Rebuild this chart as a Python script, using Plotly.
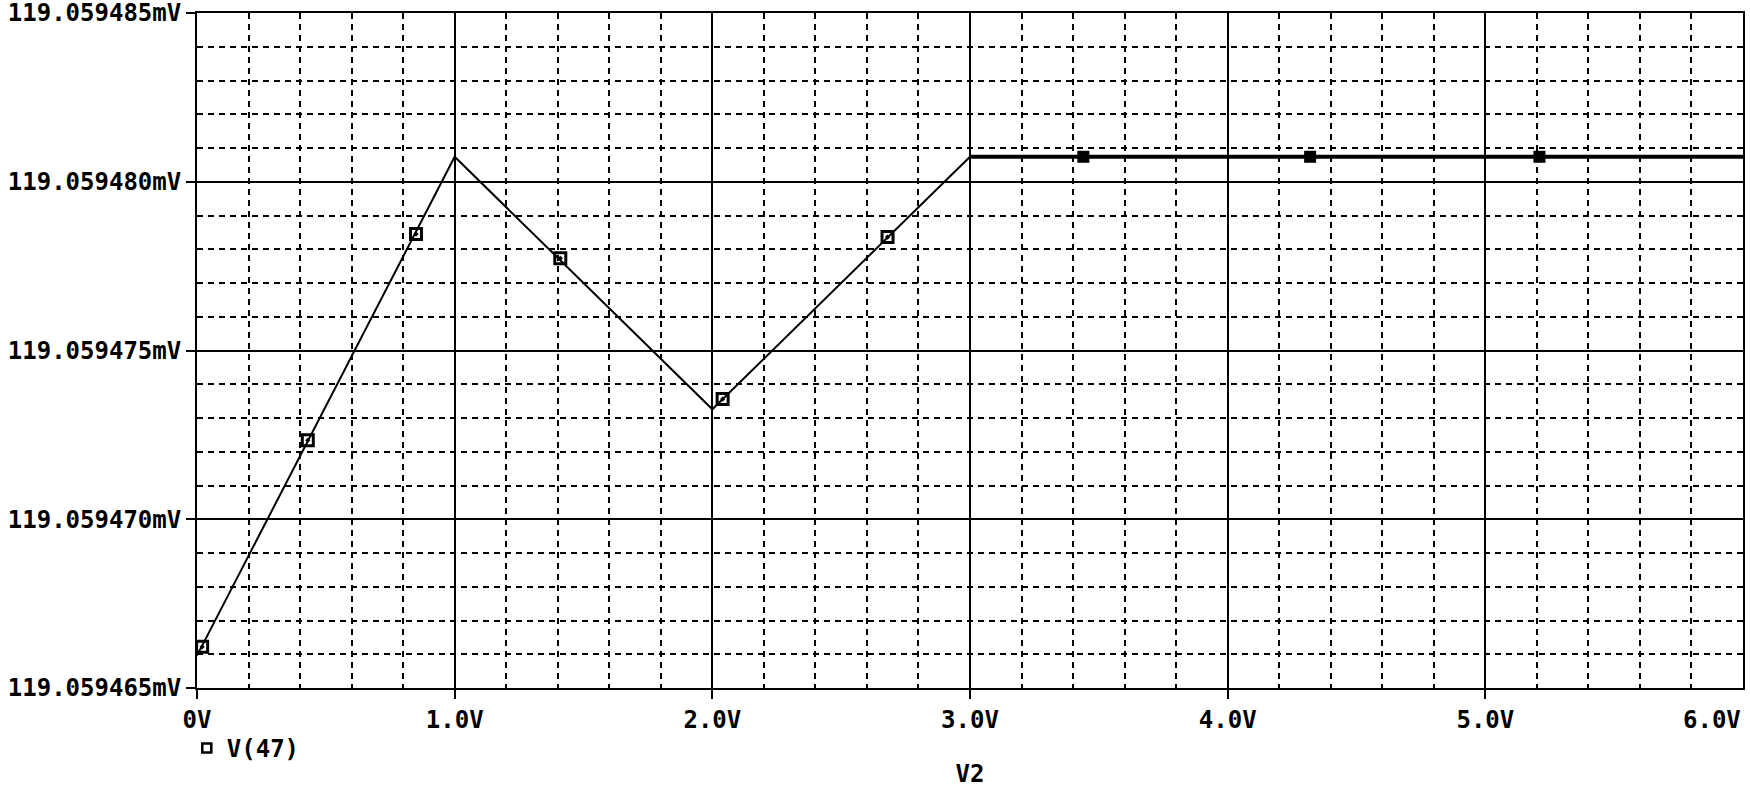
import plotly.graph_objects as go

# V(47) trace vertices (V2 sweep, volts) and value in mV
v2 = [0.0, 1.0, 2.0, 3.0, 4.0, 5.0, 6.0]
v47 = [119.05946596, 119.05948074, 119.05947326, 119.05948074,
       119.05948074, 119.05948074, 119.05948074]

# marker points drawn along the trace
mark_v2 = [0.02, 0.43, 0.85, 1.41, 2.04, 2.68, 3.44, 4.32, 5.21]
mark_v47 = [119.05946622, 119.05947234, 119.05947845, 119.05947773,
            119.05947356, 119.05947836, 119.05948074, 119.05948074,
            119.05948074]

x_ticks = [0, 1, 2, 3, 4, 5, 6]
x_labels = ["0V", "1.0V", "2.0V", "3.0V", "4.0V", "5.0V", "6.0V"]
y_ticks = [119.059465, 119.059470, 119.059475, 119.059480, 119.059485]
y_labels = ["119.059465mV", "119.059470mV", "119.059475mV",
            "119.059480mV", "119.059485mV"]

FONT = "DejaVu Sans Mono"
TF = dict(family=FONT, size=24, weight="bold", color="black")

fig = go.Figure()

# sloped part of the trace
fig.add_trace(go.Scatter(x=v2[:4], y=v47[:4], mode="lines",
                         line=dict(color="black", width=2),
                         showlegend=False, hoverinfo="skip"))
# flat part drawn heavier like the reference
fig.add_trace(go.Scatter(x=v2[3:], y=v47[3:], mode="lines",
                         line=dict(color="black", width=4),
                         showlegend=False, hoverinfo="skip"))
# markers on the sloped part
fig.add_trace(go.Scatter(x=mark_v2[:6], y=mark_v47[:6], mode="markers",
                         marker=dict(symbol="square-open-dot", size=11,
                                     color="black", line=dict(width=3)),
                         showlegend=False))
# markers on the flat part look solid
fig.add_trace(go.Scatter(x=mark_v2[6:], y=mark_v47[6:], mode="markers",
                         marker=dict(symbol="square", size=12, color="black"),
                         showlegend=False))
# legend entry: small hollow square
fig.add_trace(go.Scatter(x=[None], y=[None], mode="markers", name="V(47)",
                         marker=dict(symbol="square-open", size=9,
                                     color="black", line=dict(width=2.5))))

# last x label is right-aligned to the plot edge in the reference
fig.add_annotation(x=x_ticks[-1], y=0, xref="x", yref="paper",
                   text=x_labels[-1], showarrow=False,
                   xanchor="right", yanchor="top", yshift=-16, font=TF)

fig.update_layout(
    width=1750, height=788,
    margin=dict(l=197, r=7, t=13, b=100),
    plot_bgcolor="white", paper_bgcolor="white",
    font=TF,
    legend=dict(x=-0.0066, y=-0.056, xanchor="left", yanchor="top",
                font=TF, bgcolor="rgba(0,0,0,0)", itemwidth=30),
)

fig.update_xaxes(
    range=[0, 6], tickvals=x_ticks[:-1], ticktext=x_labels[:-1],
    showline=True, linecolor="black", linewidth=2, mirror=True,
    ticks="outside", ticklen=9, tickwidth=2, tickcolor="black",
    showgrid=True, gridcolor="black", gridwidth=1.5,
    minor=dict(dtick=0.2, showgrid=True, gridcolor="black", gridwidth=1.5,
               griddash="6px,5px", ticks=""),
    zeroline=False, automargin=False,
    title=dict(text="V2", font=TF, standoff=40),
    tickfont=TF,
)
fig.update_yaxes(
    range=[119.059465, 119.05948500001], tickvals=y_ticks, ticktext=y_labels,
    showline=True, linecolor="black", linewidth=2, mirror=True,
    ticks="outside", ticklen=9, tickwidth=2, tickcolor="black",
    showgrid=True, gridcolor="black", gridwidth=1.5,
    minor=dict(dtick=0.000001, showgrid=True, gridcolor="black", gridwidth=1.5,
               griddash="6px,5px", ticks=""),
    zeroline=False, automargin=False, ticklabeloverflow="allow",
    tickfont=TF,
)

# drop the default 8px body margin so the figure sits at the page corner
fig.write_html("out.html", config={"displayModeBar": False},
               post_script="document.body.style.margin='0';")
